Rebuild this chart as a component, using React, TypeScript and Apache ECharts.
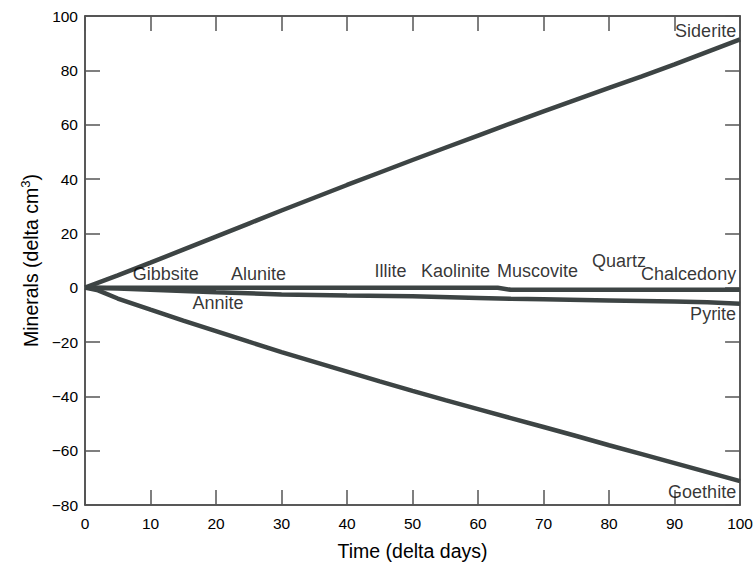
import React, { useEffect, useRef } from "react";
import * as echarts from "echarts";

const FONT = "'Liberation Sans', Arial, Helvetica, sans-serif";
const LINE_COLOR = "#3d4444";

// Time axis (delta days)
const sideriteDays = [0, 5, 10, 15, 20, 25, 30, 35, 40, 45, 50, 55, 60, 65, 70, 75, 80, 85, 90, 95, 100];
const sideriteVals = [0, 4.5, 9.2, 14, 18.8, 23.6, 28.4, 33.1, 37.8, 42.4, 47, 51.5, 56, 60.5, 64.9, 69.2, 73.5, 77.8, 82.2, 86.8, 91.4];

const goethiteDays = [0, 2, 5, 10, 15, 20, 25, 30, 35, 40, 45, 50, 55, 60, 65, 70, 75, 80, 85, 90, 95, 100];
const goethiteVals = [0, -1, -4, -8.1, -12.1, -16, -19.9, -23.7, -27.3, -30.9, -34.5, -38, -41.4, -44.7, -48, -51.3, -54.6, -58, -61.3, -64.6, -67.9, -71.2];

const pyriteDays = [0, 5, 10, 20, 30, 40, 50, 60, 65, 70, 80, 90, 95, 100];
const pyriteVals = [0, -0.3, -0.8, -1.7, -2.5, -2.9, -3.2, -3.8, -4.1, -4.3, -4.7, -5.1, -5.4, -5.9];

const zeroDays = [0, 63, 65, 100];
const zeroVals = [0, 0, -0.8, -0.8];

// Mineral name labels
const labelNames = ["Gibbsite", "Alunite", "Illite", "Kaolinite", "Muscovite", "Quartz", "Annite", "Chalcedony", "Pyrite", "Siderite", "Goethite"];
const labelDays = [7.3, 22.3, 44.2, 51.3, 62.9, 77.4, 16.4, 99.4, 99.4, 99.4, 99.4];
const labelVals = [4.9, 4.9, 6.1, 6.1, 6.1, 9.7, -5.5, 5.2, -9.8, 94.3, -75.3];
const labelSide = ["right", "right", "right", "right", "right", "right", "right", "left", "left", "left", "left"];

const xTicks = { min: 0, max: 100, interval: 10 };
const yTicks = { min: -80, max: 100, interval: 20 };

const pairs = (xs: number[], ys: number[]) => xs.map((x, i) => [x, ys[i]]);

export default function App() {
  const ref = useRef<HTMLDivElement>(null);
  useEffect(() => {
    if (!ref.current) return;
    const chart = echarts.init(ref.current, null, { renderer: "svg" });
    const axisLine = { show: true, onZero: false, lineStyle: { color: "#222", width: 1.5 } };
    const axisTick = { show: true, inside: true, length: 15, lineStyle: { color: "#555", width: 1.5 } };
    const lineSeries = (name: string, xs: number[], ys: number[]) => ({
      type: "line",
      name,
      data: pairs(xs, ys),
      showSymbol: false,
      symbol: "none",
      lineStyle: { color: LINE_COLOR, width: 4.5 },
      itemStyle: { color: LINE_COLOR },
      z: 2,
    });
    chart.setOption({
      animation: false,
      backgroundColor: "#ffffff",
      textStyle: { fontFamily: FONT },
      grid: { left: 85, right: 15, top: 16, bottom: 58, containLabel: false },
      xAxis: [
        {
          type: "value",
          position: "bottom",
          ...xTicks,
          axisLine,
          axisTick,
          splitLine: { show: false },
          axisLabel: { fontSize: 15.5, color: "#000", fontFamily: FONT, margin: 10 },
          name: "Time (delta days)",
          nameLocation: "middle",
          nameGap: 36,
          nameTextStyle: { fontSize: 19.5, color: "#000", fontFamily: FONT },
        },
        {
          type: "value",
          position: "top",
          ...xTicks,
          axisLine,
          axisTick,
          splitLine: { show: false },
          axisLabel: { show: false },
        },
      ],
      yAxis: [
        {
          type: "value",
          position: "left",
          ...yTicks,
          axisLine,
          axisTick,
          splitLine: { show: false },
          axisLabel: {
            fontSize: 15.5,
            color: "#000",
            fontFamily: FONT,
            margin: 7,
            formatter: (v: number) => (v < 0 ? "\u2212" + Math.abs(v) : String(v)),
          },
          name: "{a|Minerals (delta cm}{s|3}{a|)}",
          nameLocation: "middle",
          nameGap: 34,
          nameTextStyle: {
            color: "#000",
            fontFamily: FONT,
            rich: {
              a: { fontSize: 19.5, color: "#000", fontFamily: FONT, lineHeight: 24 },
              s: { fontSize: 13, color: "#000", fontFamily: FONT, verticalAlign: "top", lineHeight: 24 },
            },
          },
        },
        {
          type: "value",
          position: "right",
          ...yTicks,
          axisLine,
          axisTick,
          splitLine: { show: false },
          axisLabel: { show: false },
        },
      ],
      series: [
        lineSeries("Zero", zeroDays, zeroVals),
        lineSeries("Pyrite", pyriteDays, pyriteVals),
        lineSeries("Goethite", goethiteDays, goethiteVals),
        lineSeries("Siderite", sideriteDays, sideriteVals),
        {
          type: "scatter",
          name: "labels",
          symbolSize: 0,
          itemStyle: { color: "transparent" },
          z: 5,
          data: labelNames.map((n, i) => ({
            name: n,
            value: [labelDays[i], labelVals[i]],
            label: {
              show: true,
              position: labelSide[i],
              distance: 0,
              formatter: "{b}",
              fontSize: 18,
              color: "#000",
              fontFamily: FONT,
            },
          })),
        },
      ],
    });
    return () => chart.dispose();
  }, []);
  return <div ref={ref} style={{ width: 756, height: 566, position: "absolute", left: 0, top: 0 }} />;
}
